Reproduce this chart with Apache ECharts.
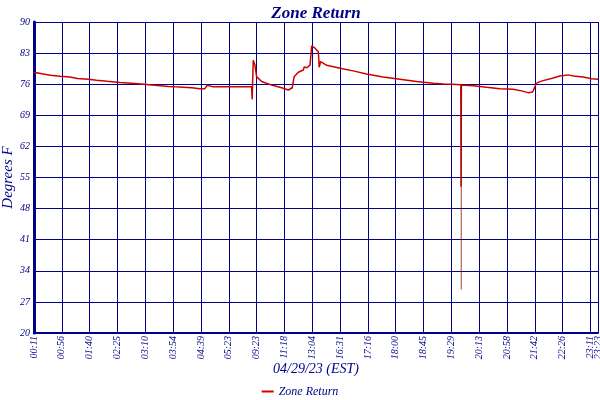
<!DOCTYPE html>
<html style="height: 100%">
<head>
	<title>Zone Return</title>
	<script type="text/javascript" src="https://cdn.jsdelivr.net/npm/echarts@6/dist/echarts.min.js"></script>
</head>
<body style="height: 100%; margin: 0; background: #fff">
<div id="container" style="height: 100%"></div>
<script type="text/javascript">
// x position in sample units (10 units between time labels), value in deg F
var xPos = [0, 3.3, 6.0, 9.3, 12.9, 15.6, 19.5, 22.5, 26.3, 30.9, 35.1, 39.3, 43.5, 48.3, 50.7,
	56.7, 59.6, 61.4, 62.3, 64.4, 68.6, 78.2, 78.4, 78.8, 79.4, 80.0, 81.8, 85.4, 89.0, 91.4,
	92.8, 93.5, 95.0, 96.8, 97.1, 98.0, 99.2, 99.8, 101.0, 102.2, 102.5, 103.0, 105.2, 110.0,
	114.7, 119.5, 125.5, 131.5, 137.5, 143.5, 147.1, 150.1, 153.4, 153.5, 153.6, 157.9, 162.7,
	167.4, 172.2, 175.2, 177.6, 179.2, 180.3, 180.9, 183.0, 186.6, 189.0, 192.0, 193.8, 197.4,
	200.4, 202.7];
var temps = [78.7, 78.3, 78.0, 77.8, 77.6, 77.3, 77.1, 76.9, 76.65, 76.4, 76.2, 76.0, 75.75, 75.5, 75.4,
	75.2, 75.0, 75.0, 75.75, 75.4, 75.45, 75.45, 72.6, 81.4, 80.3, 77.7, 76.6, 75.8, 75.2, 74.7,
	75.2, 77.7, 78.7, 79.2, 79.9, 79.7, 80.3, 84.6, 84.1, 83.3, 79.8, 81.1, 80.25, 79.6,
	79.0, 78.3, 77.6, 77.1, 76.6, 76.2, 76.05, 76.0, 75.9, 52.9, 75.8, 75.65, 75.3,
	75.0, 74.85, 74.5, 74.1, 74.25, 75.8, 76.35, 76.8, 77.4, 77.85, 78.1, 77.85, 77.6,
	77.25, 77.1];
// single low reading inside the drop near 19:29
var spikeX = [153.55, 153.55];
var spikeY = [75.8, 29.8];

var timeLabels = ['00:11', '00:56', '01:40', '02:25', '03:10', '03:54', '04:39', '05:23', '09:23', '11:18',
	'13:04', '16:31', '17:16', '18:00', '18:45', '19:29', '20:13', '20:58', '21:42', '22:26', '23:11'];
var lastLabel = '23:23';
var xMax = 202.7;
var yTicks = [20, 27, 34, 41, 48, 55, 62, 69, 76, 83, 90];

var navy = '#000088';
var red = '#cc0000';
var fontName = 'Liberation Serif';

var mainData = xPos.map(function (x, i) { return [x, temps[i]]; });
var spikeData = spikeX.map(function (x, i) { return [x, spikeY[i]]; });

var labelStyle = {
	rotate: 90,
	margin: 3,
	hideOverlap: false,
	color: navy,
	fontFamily: fontName,
	fontStyle: 'italic',
	fontSize: 10
};

var dom = document.getElementById('container');
var myChart = echarts.init(dom);
var option = {
	animation: false,
	title: {
		text: 'Zone Return',
		left: 316,
		textAlign: 'center',
		textVerticalAlign: 'top',
		top: 0,
		padding: 0,
		textStyle: {
			color: navy, fontFamily: fontName, fontStyle: 'italic', fontWeight: 'bold', fontSize: 17
		}
	},
	legend: {
		data: ['Zone Return'],
		top: 382,
		left: 'center',
		padding: 0,
		icon: 'rect',
		itemWidth: 12,
		itemHeight: 2,
		textStyle: { color: navy, fontFamily: fontName, fontStyle: 'italic', fontSize: 12 }
	},
	grid: { left: 34, right: 2, top: 22, bottom: 67, containLabel: false, outerBoundsMode: 'none' },
	xAxis: [{
		type: 'value',
		min: 0,
		max: xMax,
		interval: 10,
		name: '04/29/23 (EST)',
		nameLocation: 'middle',
		nameGap: 25,
		nameMoveOverlap: false,
		nameTextStyle: { color: navy, fontFamily: fontName, fontStyle: 'italic', fontSize: 14 },
		axisLine: { lineStyle: { color: navy, width: 2 } },
		axisTick: { show: false },
		splitLine: { show: true, lineStyle: { color: navy, width: 1 } },
		axisLabel: Object.assign({}, labelStyle, {
			showMinLabel: true,
			showMaxLabel: false,
			formatter: function (v) {
				return timeLabels[Math.round(v / 10)] || '';
			}
		})
	}, {
		// carries only the end-of-range label
		type: 'value',
		position: 'bottom',
		min: 0,
		max: xMax,
		interval: 10,
		axisLine: { show: false },
		axisTick: { show: false },
		splitLine: { show: false },
		axisLabel: Object.assign({}, labelStyle, {
			showMinLabel: false,
			showMaxLabel: true,
			formatter: function (v) {
				return v > xMax - 0.5 ? lastLabel : '';
			}
		})
	}],
	yAxis: [{
		type: 'value',
		min: yTicks[0],
		max: yTicks[yTicks.length - 1],
		interval: yTicks[1] - yTicks[0],
		name: 'Degrees F',
		nameLocation: 'middle',
		nameGap: 14,
		nameMoveOverlap: false,
		nameTextStyle: { color: navy, fontFamily: fontName, fontStyle: 'italic', fontSize: 15 },
		axisLine: { show: true, lineStyle: { color: navy, width: 2 } },
		axisTick: { show: false },
		splitLine: { show: true, lineStyle: { color: navy, width: 1 } },
		axisLabel: {
			margin: 4,
			color: navy,
			fontFamily: fontName,
			fontStyle: 'italic',
			fontSize: 10
		}
	}, {
		type: 'value',
		position: 'right',
		min: yTicks[0],
		max: yTicks[yTicks.length - 1],
		axisLine: { show: true, lineStyle: { color: navy, width: 3 } },
		axisTick: { show: false },
		axisLabel: { show: false },
		splitLine: { show: false }
	}],
	series: [{
		name: 'Zone Return',
		type: 'line',
		data: mainData,
		showSymbol: false,
		symbol: 'none',
		itemStyle: { color: red },
		lineStyle: { color: red, width: 1.5 }
	}, {
		name: 'spike',
		type: 'line',
		data: spikeData,
		symbol: 'none',
		itemStyle: { color: red },
		lineStyle: { color: '#8b1010', width: 0.8 }
	}]
};
myChart.setOption(option);
</script>
</body>
</html>
